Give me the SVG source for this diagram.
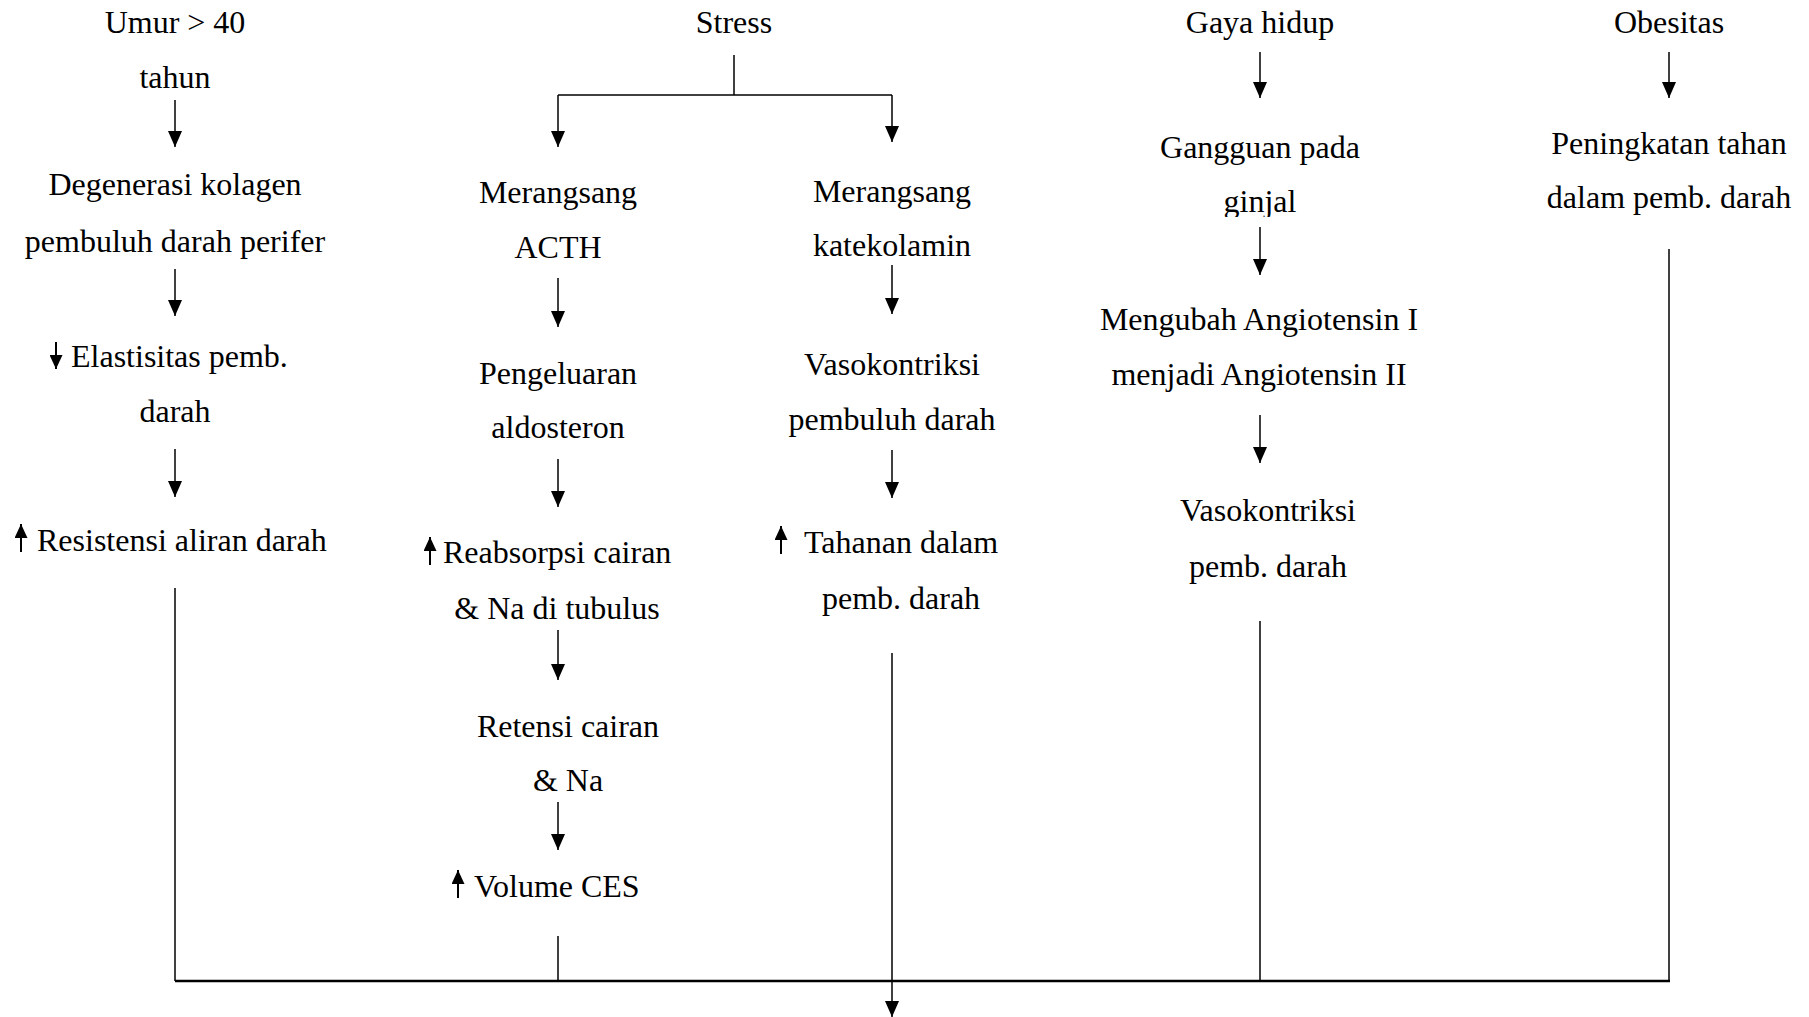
<svg xmlns="http://www.w3.org/2000/svg" width="1809" height="1017" viewBox="0 0 1809 1017">
<style>
text{font-family:"Liberation Serif","Times New Roman",serif;font-size:32px;fill:#000}
.c{text-anchor:middle}
.ln{stroke:#000;stroke-width:1.5;fill:none}
.ar{stroke:#000;stroke-width:1.5;fill:none;marker-end:url(#ah)}
.sm{stroke:#000;stroke-width:2;fill:none;marker-end:url(#sh)}
.bl{stroke:#000;stroke-width:2.3;fill:none}
</style>
<defs>
<marker id="ah" viewBox="0 0 16 14" refX="16" refY="7" markerWidth="16" markerHeight="14" markerUnits="userSpaceOnUse" orient="auto"><path d="M0,0 L16,7 L0,14 z" fill="#000"/></marker>
<marker id="sh" viewBox="0 0 14 13" refX="14" refY="6.5" markerWidth="14" markerHeight="13" markerUnits="userSpaceOnUse" orient="auto"><path d="M0,0 L14,6.5 L0,13 z" fill="#000"/></marker>
<clipPath id="gclip"><rect x="1100" y="180" width="300" height="37"/></clipPath>
</defs>
<rect width="1809" height="1017" fill="#fff"/>

<g id="n-umur"><text class="c" x="175" y="33">Umur &gt; 40</text><text class="c" x="175" y="88">tahun</text></g>
<g id="n-degenerasi"><text class="c" x="175" y="195">Degenerasi kolagen</text><text class="c" x="175" y="252">pembuluh darah perifer</text></g>
<g id="n-elastisitas"><path class="sm" d="M56,342 V369"/><text x="71" y="367">Elastisitas pemb.</text><text class="c" x="175" y="422">darah</text></g>
<g id="n-resistensi"><path class="sm" d="M21,552 V524"/><text x="37" y="551">Resistensi aliran darah</text></g>

<g id="n-stress"><text class="c" x="734" y="33">Stress</text></g>
<g id="n-acth"><text class="c" x="558" y="203">Merangsang</text><text class="c" x="558" y="258">ACTH</text></g>
<g id="n-aldosteron"><text class="c" x="558" y="384">Pengeluaran</text><text class="c" x="558" y="438">aldosteron</text></g>
<g id="n-reabsorpsi"><path class="sm" d="M430,565 V537"/><text x="443" y="563">Reabsorpsi cairan</text><text class="c" x="557" y="619">&amp; Na di tubulus</text></g>
<g id="n-retensi"><text class="c" x="568" y="737">Retensi cairan</text><text class="c" x="568" y="791">&amp; Na</text></g>
<g id="n-volume"><path class="sm" d="M458,898 V870"/><text x="474" y="897">Volume CES</text></g>

<g id="n-katekolamin"><text class="c" x="892" y="202">Merangsang</text><text class="c" x="892" y="256">katekolamin</text></g>
<g id="n-vaso1"><text class="c" x="892" y="375">Vasokontriksi</text><text class="c" x="892" y="430">pembuluh darah</text></g>
<g id="n-tahanan"><path class="sm" d="M781,554 V526"/><text x="804" y="553">Tahanan dalam</text><text class="c" x="901" y="609">pemb. darah</text></g>

<g id="n-gaya"><text class="c" x="1260" y="33">Gaya hidup</text></g>
<g id="n-ginjal"><text class="c" x="1260" y="158">Gangguan pada</text><text class="c" x="1260" y="212" clip-path="url(#gclip)">ginjal</text></g>
<g id="n-angiotensin"><text class="c" x="1259" y="330">Mengubah Angiotensin I</text><text class="c" x="1259" y="385">menjadi Angiotensin II</text></g>
<g id="n-vaso2"><text class="c" x="1268" y="521">Vasokontriksi</text><text class="c" x="1268" y="577">pemb. darah</text></g>

<g id="n-obesitas"><text class="c" x="1669" y="33">Obesitas</text></g>
<g id="n-peningkatan"><text class="c" x="1669" y="154">Peningkatan tahan</text><text class="c" x="1669" y="208">dalam pemb. darah</text></g>

<g id="connectors">
<path class="ar" d="M175,100 V147"/>
<path class="ar" d="M175,269 V316"/>
<path class="ar" d="M175,449 V497"/>
<path class="ln" d="M175,588 V981"/>

<path class="ln" d="M734,55 V95"/>
<path class="ln" d="M558,95 H892"/>
<path class="ar" d="M558,95 V147"/>
<path class="ar" d="M892,95 V142"/>
<path class="ar" d="M558,278 V327"/>
<path class="ar" d="M558,459 V507"/>
<path class="ar" d="M558,630 V680"/>
<path class="ar" d="M558,802 V850"/>
<path class="ln" d="M558,936 V981"/>

<path class="ar" d="M892,265 V314"/>
<path class="ar" d="M892,450 V498"/>
<path class="ar" d="M892,653 V1017"/>

<path class="ar" d="M1260,52 V98"/>
<path class="ar" d="M1260,227 V275"/>
<path class="ar" d="M1260,415 V463"/>
<path class="ln" d="M1260,621 V981"/>

<path class="ar" d="M1669,52 V98"/>
<path class="ln" d="M1669,249 V981"/>

<path class="bl" d="M175,981 H1670"/>
</g>
</svg>
